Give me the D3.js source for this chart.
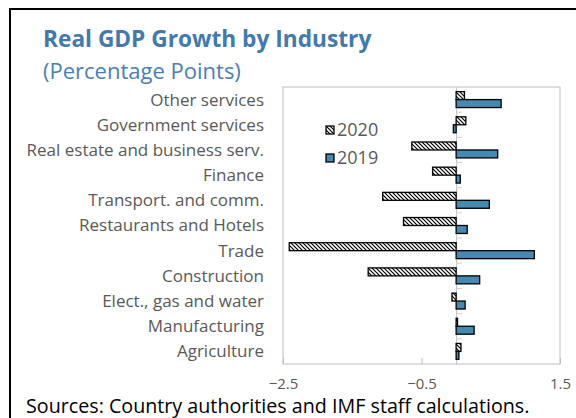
<!DOCTYPE html>
<html>
<head>
<meta charset="utf-8">
<script src="https://cdn.jsdelivr.net/npm/d3@7"></script>
<style>
  body { margin: 0; background: #fff; }
  svg { display: block; font-family: "Open Sans", "Noto Sans", sans-serif; }
</style>
</head>
<body>
<svg width="576" height="418"></svg>
<script>
// data
var categories = ["Other services", "Government services", "Real estate and business serv.", "Finance",
  "Transport. and comm.", "Restaurants and Hotels", "Trade", "Construction",
  "Elect., gas and water", "Manufacturing", "Agriculture"];
var v2020 = [0.12, 0.14, -0.64, -0.34, -1.06, -0.76, -2.41, -1.27, -0.06, 0.02, 0.07];
var v2019 = [0.65, -0.04, 0.60, 0.06, 0.48, 0.16, 1.13, 0.34, 0.13, 0.26, 0.04];
var xTicks = [-2.5, -0.5, 1.5];
var seriesNames = ["2020", "2019"];

var svg = d3.select('svg');
var blue = '#4588b0';
var grey = '#595959';

// hatch for 2020
var defs = svg.append('defs');
var pat = defs.append('pattern').attr('id', 'hatch').attr('patternUnits', 'userSpaceOnUse')
  .attr('width', 4).attr('height', 4);
pat.append('rect').attr('width', 4).attr('height', 4).attr('fill', '#fff');
pat.append('path').attr('d', 'M-1,-1L5,5M3,-1L5,1M-1,3L1,5').attr('stroke', '#000').attr('stroke-width', 1.2);

// outer frame (open on right / bottom)
svg.append('path').attr('d', 'M10,418L10,9L576,9').attr('fill', 'none').attr('stroke', '#000').attr('stroke-width', 2);

svg.append('text').attr('x', 43).attr('y', 47).attr('font-size', 22.7).attr('font-weight', 'bold')
  .attr('fill', '#4379ab').text('Real GDP Growth by Industry');
svg.append('text').attr('x', 43).attr('y', 79).attr('font-size', 22)
  .attr('fill', '#4a80b3').text('(Percentage Points)');

var pLeft = 283, pRight = 560, pTop = 87, pBottom = 364;

var x = d3.scaleLinear().domain([-2.5, 1.5]).range([pLeft, pRight]);
var y = d3.scaleBand().domain(categories).range([pTop, pBottom]).padding(0);
var sub = d3.scaleBand().domain(seriesNames).range([0, y.bandwidth()]).paddingOuter(0.58).paddingInner(0);

// plot frame
svg.append('rect').attr('x', pLeft).attr('y', pTop).attr('width', pRight - pLeft).attr('height', pBottom - pTop)
  .attr('fill', 'none').attr('stroke', '#bfbfbf').attr('stroke-width', 1);

// x axis labels + inner ticks
var xAxis = d3.axisBottom(x).tickValues(xTicks).tickSize(-6).tickPadding(14)
  .tickFormat(function (d) { return d3.format('.1f')(d).replace('-', '\u2212'); });
var gx = svg.append('g').attr('transform', 'translate(0,' + pBottom + ')').call(xAxis);
gx.select('.domain').remove();
gx.selectAll('line').attr('stroke', '#bfbfbf');
gx.selectAll('text').attr('font-size', 15).attr('fill', grey).attr('font-family', '"Open Sans", sans-serif');

// category axis at zero
var yAxis = d3.axisRight(y).tickSize(0).tickFormat('');
var gy = svg.append('g').attr('transform', 'translate(' + x(0) + ',0)').call(yAxis);
gy.select('.domain').attr('stroke', '#bfbfbf');
gy.selectAll('.tk').data(categories.slice(1)).enter().append('line')
  .attr('x1', 0).attr('x2', 6)
  .attr('y1', function (d) { return y(d); }).attr('y2', function (d) { return y(d); })
  .attr('stroke', '#d0d0d0');

// category labels
svg.append('g').selectAll('text').data(categories).enter().append('text')
  .attr('x', 264).attr('y', function (d) { return y(d) + y.bandwidth() / 2; })
  .attr('dy', '0.35em').attr('text-anchor', 'end').attr('font-size', 17).attr('fill', grey)
  .text(function (d) { return d; });

// bars
var series = [
  { name: '2020', values: v2020, fill: 'url(#hatch)' },
  { name: '2019', values: v2019, fill: blue }
];
series.forEach(function (s) {
  svg.append('g').selectAll('rect').data(s.values).enter().append('rect')
    .attr('x', function (d) { return x(Math.min(0, d)); })
    .attr('y', function (d, i) { return y(categories[i]) + sub(s.name); })
    .attr('width', function (d) { return Math.abs(x(d) - x(0)); })
    .attr('height', sub.bandwidth())
    .attr('fill', s.fill).attr('stroke', '#000').attr('stroke-width', 1.3);
});

// legend
var lg = svg.append('g');
series.forEach(function (s, i) {
  var ly = 130 + i * 28;
  lg.append('rect').attr('x', 326).attr('y', ly - 4).attr('width', 8).attr('height', 8)
    .attr('fill', s.fill).attr('stroke', '#000').attr('stroke-width', 1.3);
  lg.append('text').attr('x', 337).attr('y', ly).attr('dy', '0.35em').attr('font-size', 18)
    .attr('fill', grey).text(s.name);
});

svg.append('text').attr('x', 26).attr('y', 413).attr('font-size', 19.7).attr('fill', '#000')
  .text('Sources: Country authorities and IMF staff calculations.');
</script>
</body>
</html>
